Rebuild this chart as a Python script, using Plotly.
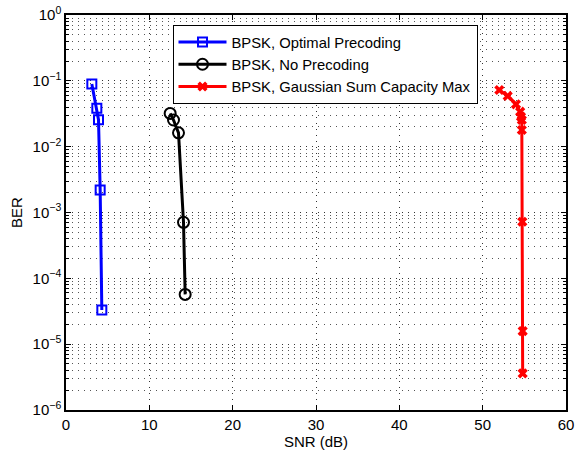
import plotly.graph_objects as go

# Data
opt_snr = [3.1, 3.7, 3.9, 4.1, 4.3]
opt_ber = [0.0895, 0.0382, 0.0257, 0.00219, 3.3e-5]

nop_snr = [12.5, 12.9, 13.5, 14.1, 14.3]
nop_ber = [0.032, 0.0254, 0.0162, 7.1e-4, 5.7e-5]

gau_snr = [52.0, 53.0, 54.0, 54.5, 54.6, 54.7, 54.7, 54.76, 54.8, 54.8]
gau_ber = [0.0726, 0.0589, 0.044, 0.034, 0.0285, 0.0254, 0.0179, 7.24e-4, 1.58e-5, 3.6e-6]

names = ["BPSK, Optimal Precoding", "BPSK, No Precoding", "BPSK, Gaussian Sum Capacity Max"]

x_ticks = [0, 10, 20, 30, 40, 50, 60]
y_exps = [-6, -5, -4, -3, -2, -1, 0]
y_ticks = [10.0 ** e for e in y_exps]
y_ticktext = ["10<sup>%s</sup>" % (str(e) if e >= 0 else "\u2212" + str(-e)) for e in y_exps]
y_minor = [m * 10.0 ** e for e in y_exps[:-1] for m in range(2, 10)]

FONT = "Liberation Sans, Arial, Helvetica, sans-serif"
DOTS = "1px,5px"

fig = go.Figure()
fig.add_trace(go.Scatter(x=opt_snr, y=opt_ber, mode="lines+markers", name=names[0],
                         line=dict(color="#0000ff", width=3),
                         marker=dict(symbol="square-open", size=9, color="#0000ff",
                                     line=dict(width=2, color="#0000ff"))))
fig.add_trace(go.Scatter(x=nop_snr, y=nop_ber, mode="lines+markers", name=names[1],
                         line=dict(color="#000000", width=3),
                         marker=dict(symbol="circle-open", size=11, color="#000000",
                                     line=dict(width=2, color="#000000"))))
fig.add_trace(go.Scatter(x=gau_snr, y=gau_ber, mode="lines+markers", name=names[2],
                         line=dict(color="#ff0000", width=3),
                         marker=dict(symbol="x", size=9, color="#ff0000",
                                     line=dict(width=0))))

fig.update_layout(
    width=584, height=451,
    margin=dict(l=66, r=18, t=15, b=41, autoexpand=False),
    paper_bgcolor="white", plot_bgcolor="white",
    font=dict(family=FONT, size=15, color="black"),
    showlegend=True,
    legend=dict(x=0.213, y=0.975, xanchor="left", yanchor="top",
                bgcolor="white", bordercolor="black", borderwidth=1,
                font=dict(family=FONT, size=14.8), itemwidth=48),
)

fig.update_xaxes(
    range=[0, 60], tickmode="array", tickvals=x_ticks,
    ticks="inside", ticklen=5, tickcolor="black",
    showline=True, linecolor="black", linewidth=1.5, mirror="allticks",
    showgrid=True, gridcolor="#333333", griddash=DOTS, gridwidth=1,
    zeroline=False, automargin=False,
    title=dict(text="SNR (dB)", standoff=2, font=dict(size=15)),
    tickfont=dict(size=15),
)
fig.update_yaxes(
    type="log", range=[-6, 0], tickmode="array", tickvals=y_ticks, ticktext=y_ticktext,
    ticks="inside", ticklen=5, tickcolor="black",
    showline=True, linecolor="black", linewidth=1.5, mirror="allticks",
    showgrid=True, gridcolor="#333333", griddash=DOTS, gridwidth=1,
    zeroline=False, automargin=False,
    minor=dict(tickmode="array", tickvals=y_minor, ticks="inside", ticklen=3,
               tickcolor="black", showgrid=True, gridcolor="#555555",
               griddash=DOTS, gridwidth=1),
    title=dict(text="BER", standoff=6, font=dict(size=15)),
    tickfont=dict(size=15),
)

fig.write_html("out.html")
